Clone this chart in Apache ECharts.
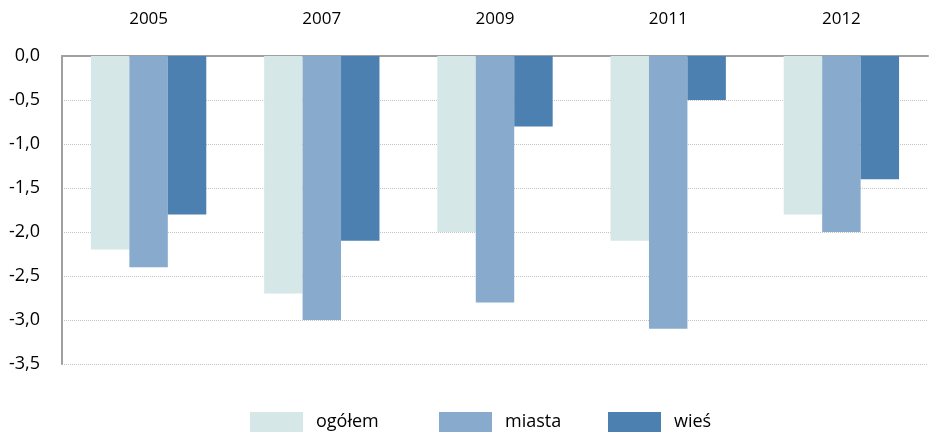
<!DOCTYPE html>
<html><head><meta charset="utf-8">
<script src="https://cdn.jsdelivr.net/npm/echarts@6/dist/echarts.min.js"></script>
<style>html,body{margin:0;padding:0;background:#fff}#c{width:929px;height:437px}</style>
</head><body><div id="c"></div>
<script>
const categories = ['2005','2007','2009','2011','2012'];
const ogolem = [-2.2,-2.7,-2.0,-2.1,-1.8];
const miasta = [-2.4,-3.0,-2.8,-3.1,-2.0];
const wies = [-1.8,-2.1,-0.8,-0.5,-1.4];
const seriesNames = ['ogółem','miasta','wieś'];
const colors = ['#d6e7e7','#88abcd','#4b80b0'];
const legendLefts = [250,439,608];
const font = 'Open Sans, Liberation Sans, sans-serif';
const chart = echarts.init(document.getElementById('c'));
chart.setOption({
  animation:false,
  grid:{left:62,right:1,top:56,bottom:73},
  legend:seriesNames.map((n,i)=>({left:legendLefts[i],top:412,padding:0,itemWidth:53,itemHeight:20,
    textStyle:{fontSize:18,color:'#000',fontFamily:font,padding:[0,0,0,8]},
    data:[{name:n,icon:'rect'}]})),
  xAxis:{type:'category',data:categories,position:'top',
    axisLine:{show:true,lineStyle:{color:'#a0a0a0',width:2}},
    axisTick:{show:false},
    axisLabel:{fontSize:17,color:'#000',fontFamily:font,margin:28}},
  yAxis:{type:'value',min:-3.5,max:0,interval:0.5,
    axisLine:{show:true,lineStyle:{color:'#a0a0a0',width:2}},
    axisTick:{show:false},
    splitLine:{lineStyle:{color:'#c4c4c4',type:'dotted'}},
    axisLabel:{fontSize:18,color:'#000',fontFamily:font,margin:22,
      formatter:v=>v.toFixed(1).replace('.',',')}},
  series:[ogolem,miasta,wies].map((d,i)=>({
    name:seriesNames[i],type:'bar',data:d,barWidth:'22.2%',barGap:'0%',
    itemStyle:{color:colors[i]}
  }))
});
</script></body></html>
